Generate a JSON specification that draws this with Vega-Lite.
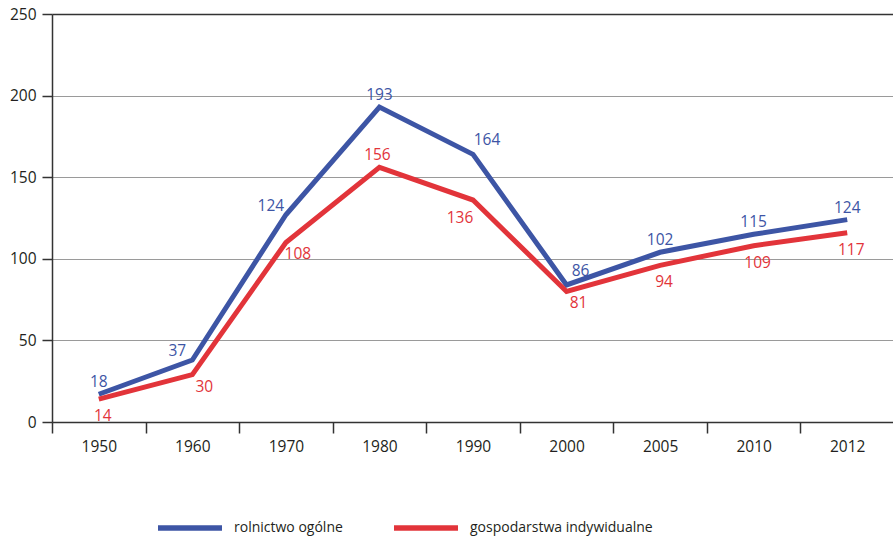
{
  "$schema": "https://vega.github.io/schema/vega-lite/v6.json",
  "width": 842,
  "height": 408,
  "autosize": "none",
  "padding": {"left": 52, "top": 14, "right": 0, "bottom": 116},
  "background": "white",
  "config": {"view": {"stroke": null}, "font": "Open Sans", "text": {"font": "Open Sans"}},
  "data": {
    "values": [
      {"year": "1950", "series": "rolnictwo ogólne", "value": 17, "label": "18"},
      {"year": "1960", "series": "rolnictwo ogólne", "value": 38, "label": "37"},
      {"year": "1970", "series": "rolnictwo ogólne", "value": 127, "label": "124"},
      {"year": "1980", "series": "rolnictwo ogólne", "value": 193, "label": "193"},
      {"year": "1990", "series": "rolnictwo ogólne", "value": 164, "label": "164"},
      {"year": "2000", "series": "rolnictwo ogólne", "value": 84, "label": "86"},
      {"year": "2005", "series": "rolnictwo ogólne", "value": 104, "label": "102"},
      {"year": "2010", "series": "rolnictwo ogólne", "value": 115, "label": "115"},
      {"year": "2012", "series": "rolnictwo ogólne", "value": 124, "label": "124"},
      {"year": "1950", "series": "gospodarstwa indywidualne", "value": 14, "label": "14"},
      {"year": "1960", "series": "gospodarstwa indywidualne", "value": 29, "label": "30"},
      {"year": "1970", "series": "gospodarstwa indywidualne", "value": 110, "label": "108"},
      {"year": "1980", "series": "gospodarstwa indywidualne", "value": 156, "label": "156"},
      {"year": "1990", "series": "gospodarstwa indywidualne", "value": 136, "label": "136"},
      {"year": "2000", "series": "gospodarstwa indywidualne", "value": 80, "label": "81"},
      {"year": "2005", "series": "gospodarstwa indywidualne", "value": 96, "label": "94"},
      {"year": "2010", "series": "gospodarstwa indywidualne", "value": 108, "label": "109"},
      {"year": "2012", "series": "gospodarstwa indywidualne", "value": 116, "label": "117"}
    ]
  },
  "encoding": {
    "x": {
      "field": "year",
      "type": "ordinal",
      "sort": null,
      "bandPosition": 0.5,
      "scale": {"type": "band", "paddingInner": 0, "paddingOuter": 0},
      "axis": {
        "title": null,
        "labelAngle": 0,
        "tickBand": "extent",
        "tickSize": 11,
        "tickWidth": 1.5,
        "tickColor": "#333333",
        "domainColor": "#333333",
        "domainWidth": 1.5,
        "labelPadding": 6,
        "labelFontSize": 15.5,
        "labelColor": "#231f20",
        "labelFont": "Open Sans",
        "grid": false
      }
    },
    "y": {
      "field": "value",
      "type": "quantitative",
      "scale": {"domain": [0, 250], "nice": false},
      "axis": {
        "title": null,
        "values": [0, 50, 100, 150, 200, 250],
        "tickSize": 10,
        "tickWidth": 1.5,
        "tickColor": "#333333",
        "domainColor": "#333333",
        "domainWidth": 1.5,
        "labelPadding": 6,
        "labelFontSize": 15.5,
        "labelColor": "#231f20",
        "labelFont": "Open Sans",
        "grid": true,
        "gridColor": {"condition": {"test": "datum.value === 250", "value": "#333333"}, "value": "#9a9a9a"},
        "gridWidth": {"condition": {"test": "datum.value === 250", "value": 1.5}, "value": 1.2}
      }
    }
  },
  "layer": [
    {
      "mark": {"type": "line", "strokeWidth": 5, "strokeJoin": "miter"},
      "encoding": {
        "color": {
          "field": "series",
          "type": "nominal",
          "scale": {"domain": ["rolnictwo ogólne", "gospodarstwa indywidualne"], "range": ["#3d55a5", "#e2343a"]},
          "legend": {
            "title": null,
            "orient": "none",
            "legendX": 103,
            "legendY": 479,
            "direction": "horizontal",
            "symbolType": "stroke",
            "symbolSize": 4096,
            "symbolStrokeWidth": 5.5,
            "labelFontSize": 14,
            "labelFont": "Open Sans",
            "labelColor": "#231f20",
            "labelLimit": 400,
            "labelOffset": 9,
            "columnPadding": 40,
            "padding": 0
          }
        }
      }
    },
    {
      "transform": [
        {"filter": {"field": "series", "equal": "rolnictwo ogólne"}},
        {"filter": {"field": "year", "oneOf": ["1950", "1980", "2005", "2010", "2012"]}}
      ],
      "mark": {"type": "text", "fontSize": 15.5, "color": "#3d55a5", "align": "center", "baseline": "alphabetic", "dy": -7},
      "encoding": {"text": {"field": "label"}}
    },
    {
      "transform": [
        {"filter": {"field": "series", "equal": "rolnictwo ogólne"}},
        {"filter": {"field": "year", "oneOf": ["1960", "1970"]}}
      ],
      "mark": {"type": "text", "fontSize": 15.5, "color": "#3d55a5", "align": "center", "baseline": "alphabetic", "dx": -15, "dy": -4},
      "encoding": {"text": {"field": "label"}}
    },
    {
      "transform": [
        {"filter": {"field": "series", "equal": "rolnictwo ogólne"}},
        {"filter": {"field": "year", "oneOf": ["1990", "2000"]}}
      ],
      "mark": {"type": "text", "fontSize": 15.5, "color": "#3d55a5", "align": "center", "baseline": "alphabetic", "dx": 14, "dy": -9},
      "encoding": {"text": {"field": "label"}}
    },
    {
      "transform": [
        {"filter": {"field": "series", "equal": "gospodarstwa indywidualne"}},
        {"filter": {"field": "year", "oneOf": ["1950", "2005", "2010", "2012"]}}
      ],
      "mark": {"type": "text", "fontSize": 15.5, "color": "#e2343a", "align": "center", "baseline": "alphabetic", "dx": 4, "dy": 22},
      "encoding": {"text": {"field": "label"}}
    },
    {
      "transform": [
        {"filter": {"field": "series", "equal": "gospodarstwa indywidualne"}},
        {"filter": {"field": "year", "oneOf": ["1960", "1970", "2000"]}}
      ],
      "mark": {"type": "text", "fontSize": 15.5, "color": "#e2343a", "align": "center", "baseline": "alphabetic", "dx": 12, "dy": 17},
      "encoding": {"text": {"field": "label"}}
    },
    {
      "transform": [
        {"filter": {"field": "series", "equal": "gospodarstwa indywidualne"}},
        {"filter": {"field": "year", "equal": "1980"}}
      ],
      "mark": {"type": "text", "fontSize": 15.5, "color": "#e2343a", "align": "center", "baseline": "alphabetic", "dx": -2, "dy": -7},
      "encoding": {"text": {"field": "label"}}
    },
    {
      "transform": [
        {"filter": {"field": "series", "equal": "gospodarstwa indywidualne"}},
        {"filter": {"field": "year", "equal": "1990"}}
      ],
      "mark": {"type": "text", "fontSize": 15.5, "color": "#e2343a", "align": "center", "baseline": "alphabetic", "dx": -13, "dy": 23},
      "encoding": {"text": {"field": "label"}}
    }
  ]
}
